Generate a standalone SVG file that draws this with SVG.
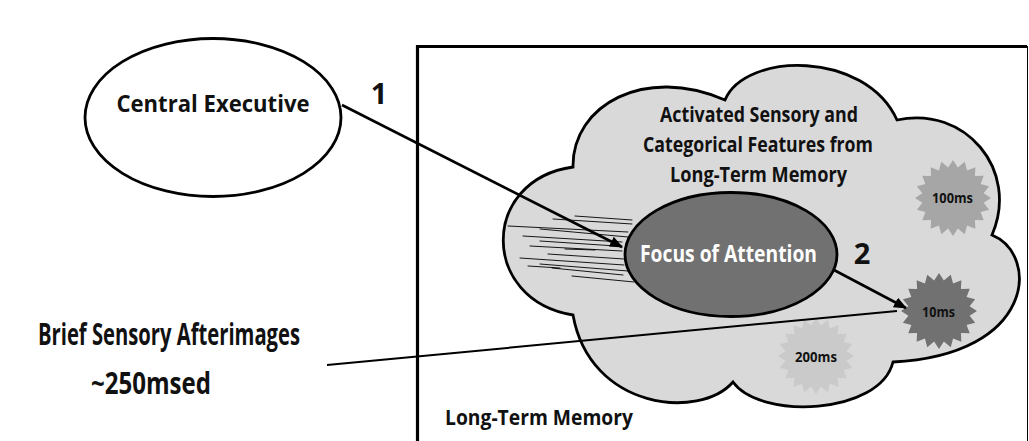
<svg xmlns="http://www.w3.org/2000/svg" width="1029" height="441" viewBox="0 0 1029 441">
  <style>
    text { font-family: "Open Sans", "Liberation Sans", sans-serif; font-weight: bold; fill: #111; }
    .big { font-size: 30px; }
    .exec { font-size: 24px; }
    .focus { font-size: 22.5px; fill: #fff; }
    .lbl { font-size: 20.5px; }
    .ltm { font-size: 21.5px; }
    .num { font-size: 29px; }
    .tiny { font-size: 14px; }
    .outline { stroke: #000; stroke-width: 2.8; }
    .conn { stroke: #000; fill: none; }
    .hatch line { stroke: #000; stroke-width: 0.9; stroke-linecap: round; }
  </style>
  <defs>
    <marker id="arrow" viewBox="0 0 12 10" refX="11" refY="5" markerWidth="13" markerHeight="11" markerUnits="userSpaceOnUse" orient="auto">
      <path d="M0,0 L12,5 L0,10 Z" fill="#000"/>
    </marker>
    <polygon id="burst" points="0,-38 4.85,-30.62 11.74,-36.14 14.07,-27.62 22.34,-30.74 21.92,-21.92 30.74,-22.34 27.62,-14.07 36.14,-11.74 30.62,-4.85 38,0 30.62,4.85 36.14,11.74 27.62,14.07 30.74,22.34 21.92,21.92 22.34,30.74 14.07,27.62 11.74,36.14 4.85,30.62 0,38 -4.85,30.62 -11.74,36.14 -14.07,27.62 -22.34,30.74 -21.92,21.92 -30.74,22.34 -27.62,14.07 -36.14,11.74 -30.62,4.85 -38,0 -30.62,-4.85 -36.14,-11.74 -27.62,-14.07 -30.74,-22.34 -21.92,-21.92 -22.34,-30.74 -14.07,-27.62 -11.74,-36.14 -4.85,-30.62"/>
  </defs>

  <rect width="1029" height="441" fill="#fff"/>

  <!-- Long-term memory frame (open at the bottom) -->
  <g id="long-term-memory">
    <path d="M417.5,441 V46.5 H1027" fill="none" stroke="#000" stroke-width="3.2"/>
    <line x1="1027.5" y1="46" x2="1027.5" y2="441" stroke="#000" stroke-width="1"/>
    <text x="445" y="425" class="ltm" textLength="188" lengthAdjust="spacingAndGlyphs">Long-Term Memory</text>
  </g>

  <!-- Cloud of activated features -->
  <g id="activated-features">
    <path class="outline" fill="#d9d9d9" d="M573,167 C572,105 645,65 725,100 C745,52 865,50 897,120 C965,105 1020,170 992,235 C1040,255 1035,355 893,362 C880,415 760,420 733,382 C700,420 590,410 573,315 C480,300 480,180 573,167 Z"/>
    <text class="lbl" text-anchor="middle" x="759" y="122" textLength="198" lengthAdjust="spacingAndGlyphs">Activated Sensory and</text>
    <text class="lbl" text-anchor="middle" x="758" y="152" textLength="230" lengthAdjust="spacingAndGlyphs">Categorical Features from</text>
    <text class="lbl" text-anchor="middle" x="758.5" y="182" textLength="177" lengthAdjust="spacingAndGlyphs">Long-Term Memory</text>
  </g>

  <!-- Streaks converging on the focus -->
  <g id="streaks" class="hatch">
    <line x1="553" y1="219" x2="632" y2="224"/>
    <line x1="575" y1="216" x2="632" y2="220"/>
    <line x1="508" y1="226" x2="628" y2="232"/>
    <line x1="540" y1="229" x2="628" y2="237"/>
    <line x1="523" y1="236" x2="622" y2="242"/>
    <line x1="540" y1="241" x2="616" y2="246"/>
    <line x1="530" y1="246" x2="622" y2="251"/>
    <line x1="565" y1="249" x2="595" y2="250"/>
    <line x1="548" y1="254" x2="624" y2="259"/>
    <line x1="520" y1="258" x2="624" y2="265"/>
    <line x1="540" y1="264" x2="628" y2="271"/>
    <line x1="528" y1="266" x2="560" y2="268"/>
    <line x1="552" y1="268" x2="623" y2="275"/>
    <line x1="572" y1="276" x2="634" y2="282"/>
  </g>

  <!-- Focus of attention -->
  <g id="focus-of-attention">
    <ellipse cx="731" cy="254.5" rx="106" ry="62" fill="#717171" class="outline"/>
    <text x="728.5" y="262" class="focus" text-anchor="middle" textLength="177" lengthAdjust="spacingAndGlyphs">Focus of Attention</text>
  </g>

  <!-- Decaying activations -->
  <g id="burst-100ms">
    <use href="#burst" transform="translate(953,198)" fill="#a6a6a6"/>
    <text x="952.5" y="203" class="tiny" text-anchor="middle" textLength="41" lengthAdjust="spacingAndGlyphs">100ms</text>
  </g>
  <g id="burst-10ms">
    <use href="#burst" transform="translate(939,311)" fill="#717171"/>
    <text x="938.5" y="317" class="tiny" text-anchor="middle" textLength="33" lengthAdjust="spacingAndGlyphs">10ms</text>
  </g>
  <g id="burst-200ms">
    <use href="#burst" transform="translate(816,356)" fill="#cacaca"/>
    <text x="816" y="362" class="tiny" text-anchor="middle" textLength="42" lengthAdjust="spacingAndGlyphs">200ms</text>
  </g>

  <!-- Central executive -->
  <g id="central-executive">
    <ellipse cx="213" cy="117.5" rx="128" ry="79" fill="#fff" class="outline"/>
    <text x="213" y="112" class="exec" text-anchor="middle" textLength="193" lengthAdjust="spacingAndGlyphs">Central Executive</text>
  </g>

  <!-- Sensory afterimages -->
  <g id="sensory-afterimages">
    <text x="169" y="345" class="big" text-anchor="middle" textLength="262" lengthAdjust="spacingAndGlyphs">Brief Sensory Afterimages</text>
    <text x="151" y="394" class="big" text-anchor="middle" textLength="120" lengthAdjust="spacingAndGlyphs">~250msed</text>
  </g>

  <!-- Connectors -->
  <g id="connectors">
    <line class="conn" x1="342" y1="105" x2="622" y2="247" stroke-width="2.6" marker-end="url(#arrow)"/>
    <text x="379" y="104" class="num" text-anchor="middle">1</text>
    <line class="conn" x1="834" y1="270" x2="906" y2="308" stroke-width="2.6" marker-end="url(#arrow)"/>
    <text x="862" y="264" class="num" text-anchor="middle">2</text>
    <line class="conn" x1="327" y1="365" x2="897" y2="311" stroke-width="2"/>
  </g>
</svg>
